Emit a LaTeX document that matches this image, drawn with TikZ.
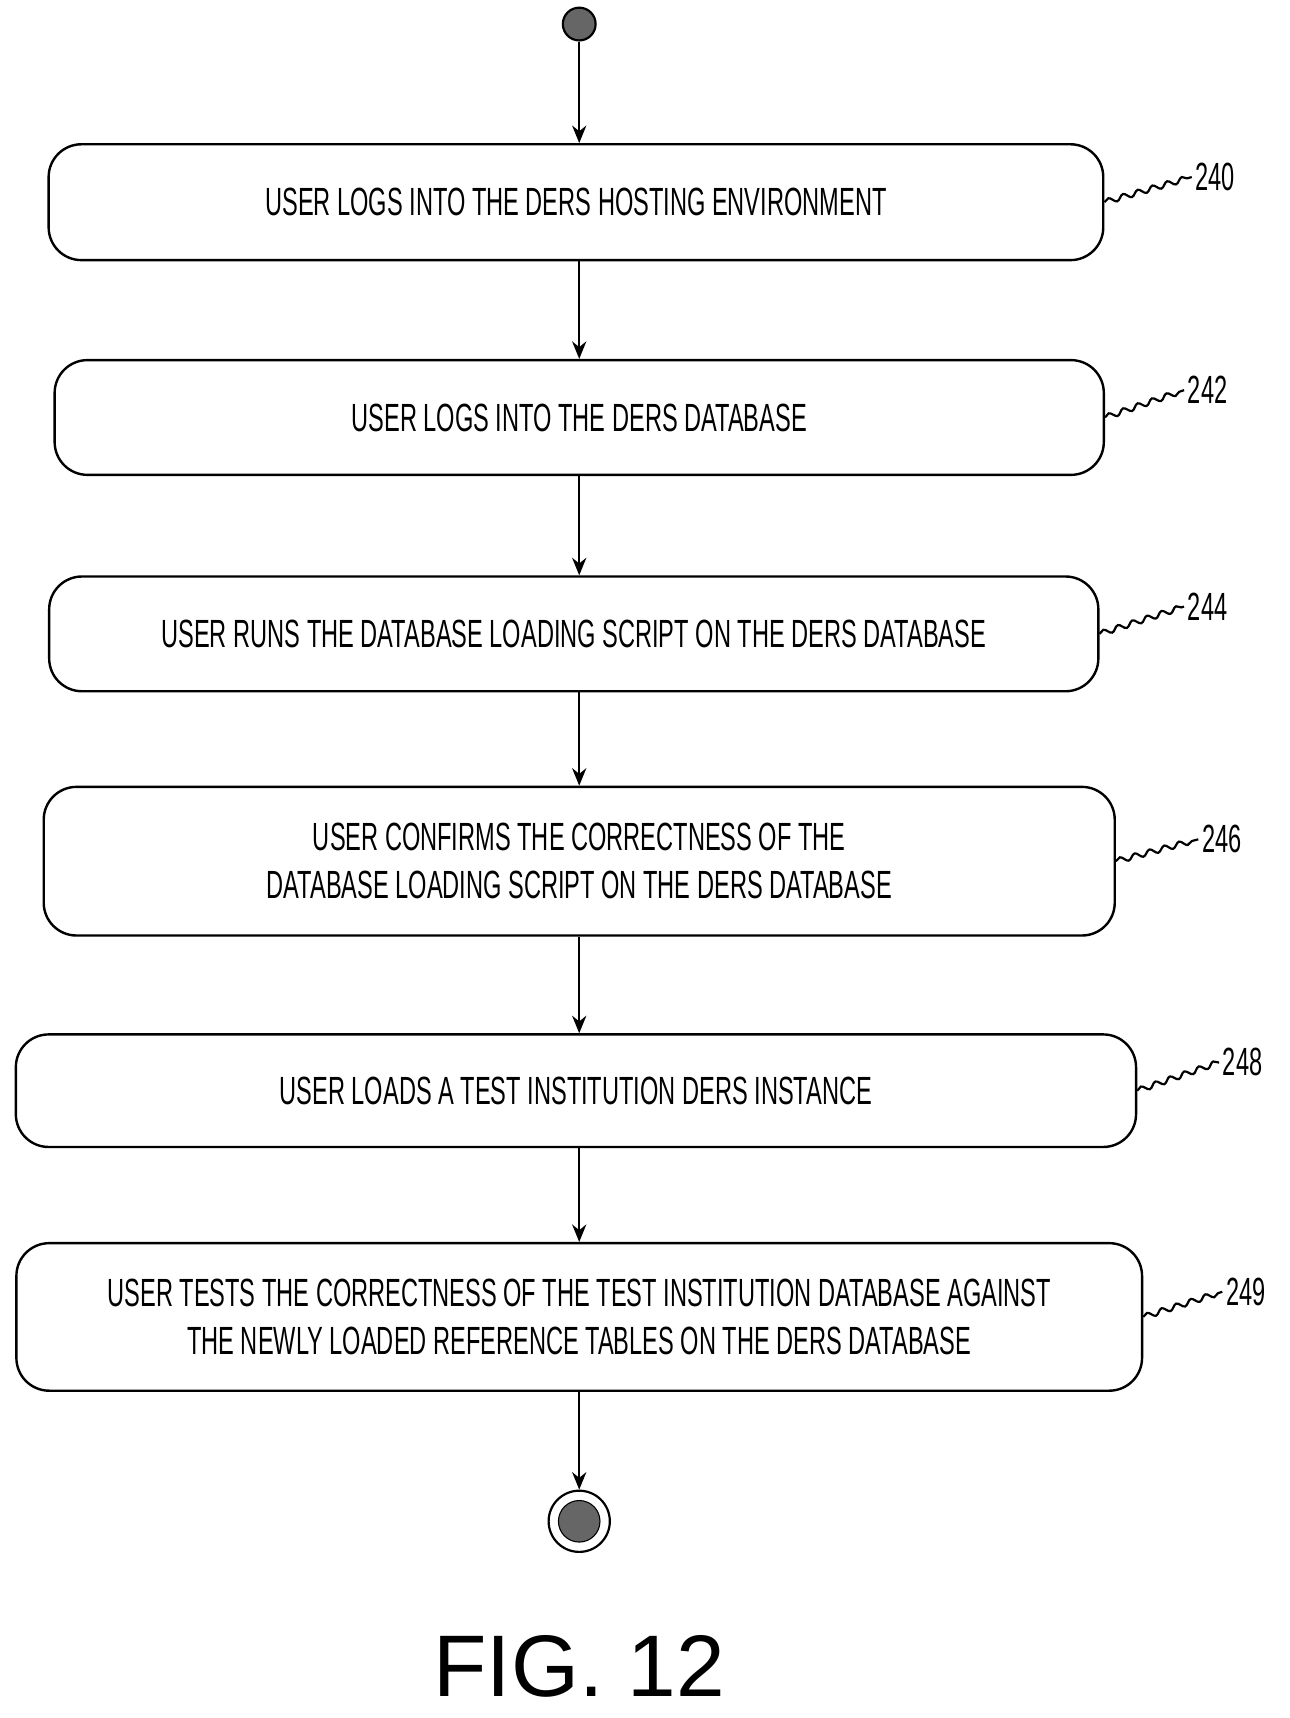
\documentclass[tikz,border=0pt]{standalone}
\usepackage{fontspec}
\setmainfont{Liberation Sans}
\usetikzlibrary{arrows.meta,positioning,decorations.pathmorphing}
\newcommand{\nar}[1]{\scalebox{0.6}[1]{#1}}
\begin{document}
\begin{tikzpicture}[x=1pt,y=-1pt,
    stepbox/.style={draw, line width=2.2pt, rounded corners=30pt, inner sep=0pt},
    flow/.style={line width=2pt, -{Stealth[length=16pt,width=13pt]}},
    tag/.style={line width=2pt, decorate, decoration={snake,amplitude=2.5pt,segment length=14pt}},
    lbl/.style={font=\fontsize{36}{40}\selectfont},
    txt/.style={font=\fontsize{36}{44}\selectfont, align=center}]
			\useasboundingbox (0,0) rectangle (1180,1572);
			\node (start) [circle, draw, line width=2pt, fill=black!60, minimum size=30pt, inner sep=0pt] at (530,22) {};
			\node (s240) [stepbox, minimum width=965pt, minimum height=106pt] at (527,185) {};
			\node (s242) [stepbox, minimum width=960pt, minimum height=105pt] at (530,382) {};
			\node (s244) [stepbox, minimum width=960pt, minimum height=105pt] at (525,580) {};
			\node (s246) [stepbox, minimum width=980pt, minimum height=136pt] at (530,788) {};
			\node (s248) [stepbox, minimum width=1025pt, minimum height=103pt] at (527,998) {};
			\node (s249) [stepbox, minimum width=1030pt, minimum height=135pt] at (530,1205) {};
			\node (stop) [circle, draw, line width=2pt, minimum size=56pt, inner sep=0pt] at (530,1392) {};
			\node (stopin) [circle, fill=black!60, draw, line width=1pt, minimum size=38pt] at (stop) {};

			\node [txt] at (s240) {\nar{USER LOGS INTO THE DERS HOSTING ENVIRONMENT}};
			\node [txt] at (s242) {\nar{USER LOGS INTO THE DERS DATABASE}};
			\node [txt] at (s244) {\nar{USER RUNS THE DATABASE LOADING SCRIPT ON THE DERS DATABASE}};
			\node [txt] at (s246) {\nar{USER CONFIRMS THE CORRECTNESS OF THE}\\\nar{DATABASE LOADING SCRIPT ON THE DERS DATABASE}};
			\node [txt] at (s248) {\nar{USER LOADS A TEST INSTITUTION DERS INSTANCE}};
			\node [txt] at (s249) {\nar{USER TESTS THE CORRECTNESS OF THE TEST INSTITUTION DATABASE AGAINST}\\\nar{THE NEWLY LOADED REFERENCE TABLES ON THE DERS DATABASE}};

			% reference numerals
			\node (n240) [lbl] at (1112,162) {\nar{240}};
			\node (n242) [lbl] at (1105,357) {\nar{242}};
			\node (n244) [lbl] at (1105,555) {\nar{244}};
			\node (n246) [lbl] at (1118,768) {\nar{246}};
			\node (n248) [lbl] at (1137,972) {\nar{248}};
			\node (n249) [lbl] at (1140,1182) {\nar{249}};
			\draw[tag] (s240.east) -- (n240.west);
			\draw[tag] (s242.east) -- (n242.west);
			\draw[tag] (s244.east) -- (n244.west);
			\draw[tag] (s246.east) -- (n246.west);
			\draw[tag] (s248.east) -- (n248.west);
			\draw[tag] (s249.east) -- (n249.west);

			\draw[flow] (start) -- (s240.north -| start);
			\draw[flow] (s240.south -| start) -- (s242.north -| start);
			\draw[flow] (s242.south -| start) -- (s244.north -| start);
			\draw[flow] (s244.south -| start) -- (s246.north -| start);
			\draw[flow] (s246.south -| start) -- (s248.north -| start);
			\draw[flow] (s248.south -| start) -- (s249.north -| start);
			\draw[flow] (s249.south -| start) -- (stop);

			\node (fig) [font=\fontsize{80}{90}\selectfont] at (530,1525) {FIG. 12};
		\end{tikzpicture}
\end{document}
